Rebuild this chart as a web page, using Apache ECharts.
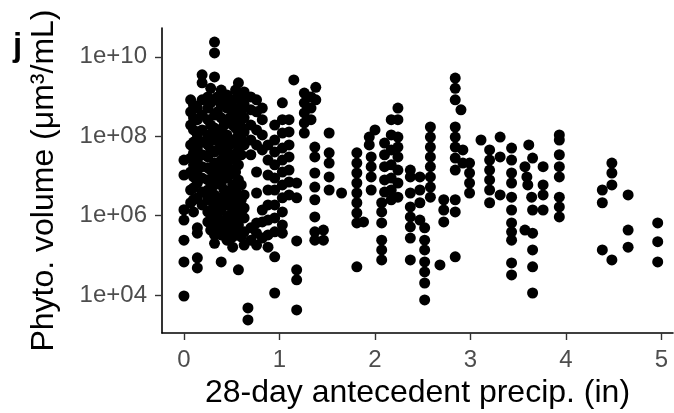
<!DOCTYPE html>
<html>
<head>
<meta charset="utf-8">
<script src="https://cdn.jsdelivr.net/npm/echarts@6/dist/echarts.min.js"></script>
<style>html,body{margin:0;padding:0;background:#fff}#c{width:674px;height:413px}</style>
</head>
<body>
<div id="c"></div>
<script>
// 28-day antecedent precipitation (in), one entry per vertical column of points
const precip = [
  0.00, 0.07, 0.10, 0.14, 0.19, 0.25, 0.28, 0.32, 0.35, 0.39,
  0.42, 0.45, 0.48, 0.51, 0.54, 0.57, 0.60, 0.63, 0.67, 0.70,
  0.76, 0.82, 0.88, 0.95, 1.03, 1.10, 1.15, 1.18, 1.26, 1.33,
  1.38, 1.37, 1.46, 1.52, 1.65, 1.81, 1.88, 1.94, 1.96, 2.00,
  2.07, 2.10, 2.17, 2.24, 2.37, 2.47, 2.52, 2.58, 2.68, 2.72,
  2.84, 2.90, 2.92, 2.99, 3.11, 3.20, 3.31, 3.43, 3.57, 3.59,
  3.60, 3.61, 3.64, 3.65, 3.76, 3.93, 4.38, 4.48, 4.65, 4.96
];
// Phytoplankton volume (um^3/mL), points in each column above
const volume = [
  [2.5e7, 1.05e7, 1.4e6, 7.7e5, 2.4e5, 6.8e4, 9.4e3],
  [8.2e8, 4.1e8, 1.9e8, 6.0e7, 2.8e7, 1.25e7, 4.4e6, 2.1e6],
  [6.1e8, 2.9e8, 1.43e8, 7.1e7, 3.8e7, 1.9e7, 9.4e6, 5.0e6, 2.5e6, 1.23e6],
  [5.1e8, 2.6e8, 1.07e8, 5.0e7, 2.5e7, 1.4e7, 6.6e6, 2.8e6, 4.9e5, 3.6e5, 8.6e4, 4.8e4],
  [3.5e9, 2.2e9, 8.2e8, 3.4e8, 1.43e8, 7.1e7, 3.4e7, 1.7e7, 8.8e6, 3.9e6, 1.85e6],
  [9.7e8, 5.1e8, 2.6e8, 1.07e8, 6.0e7, 3.0e7, 1.6e7, 7.9e6, 4.4e6, 2.5e6, 1.23e6, 6.9e5],
  [1.6e9, 6.9e8, 1.9e8, 4.5e7, 1.4e7, 4.4e6, 1.38e6, 4.3e5],
  [2.35e10, 1.25e10, 3.1e9, 8.2e8, 3.4e8, 1.6e8, 8.0e7, 4.0e7, 2.1e7, 1.05e7, 5.9e6, 3.3e6, 1.85e6, 1.03e6, 5.8e5, 3.25e5, 2.0e5],
  [9.7e8, 4.1e8, 1.07e8, 4.5e7, 1.9e7, 7.9e6, 2.5e6, 1.03e6, 4.9e5],
  [1.45e9, 6.1e8, 2.9e8, 1.43e8, 6.0e7, 2.5e7, 1.25e7, 5.9e6, 2.8e6, 1.38e6, 6.9e5, 3.25e5, 6.8e4],
  [8.2e8, 1.9e8, 8.0e7, 3.4e7, 1.4e7, 4.4e6, 1.85e6, 5.8e5],
  [1.09e9, 5.1e8, 2.3e8, 1.07e8, 4.5e7, 1.9e7, 8.8e6, 3.9e6, 1.85e6, 8.7e5, 4.3e5, 2.4e5],
  [6.1e8, 2.9e8, 6.0e7, 2.5e7, 1.05e7, 2.9e6, 1.03e6],
  [8.2e8, 4.1e8, 1.9e8, 8.0e7, 3.4e7, 1.4e7, 5.9e6, 2.5e6, 1.23e6, 5.8e5, 2.9e5, 1.6e5],
  [1.45e9, 3.4e8, 1.6e8, 7.1e7, 2.5e7, 1.25e7, 4.4e6, 1.85e6, 8.7e5, 3.9e5],
  [2.2e9, 1.09e9, 5.1e8, 2.6e8, 1.07e8, 4.5e7, 1.9e7, 7.9e6, 3.3e6, 1.38e6, 5.8e5, 4.3e4],
  [8.2e8, 4.1e8, 1.7e8, 8.0e7, 3.4e7, 5.9e6, 2.5e6, 1.23e6, 2.9e5],
  [1.3e9, 6.5e8, 2.9e8, 1.28e8, 6.0e7, 3.3e6, 1.55e6, 8.7e5, 3.9e5, 1.8e5],
  [4.7e3, 2.35e3],
  [9.7e8, 4.6e8, 1.9e8, 8.0e7, 3.4e7, 4.9e5, 2.4e5],
  [8.2e8, 4.1e8, 1.43e8, 6.0e7, 1.25e7, 3.7e6, 6.5e5, 3.6e5, 1.8e5],
  [5.1e8, 2.6e8, 1.07e8, 4.5e7, 1.38e6, 6.9e5, 2.7e5],
  [6.0e7, 2.5e7, 1.05e7, 4.4e6, 1.85e6, 7.7e5, 3.25e5, 1.6e5],
  [1.9e8, 8.0e7, 4.0e7, 1.9e7, 8.8e6, 4.4e6, 1.85e6, 8.7e5, 3.9e5, 9.1e4, 1.12e4],
  [6.9e8, 2.6e8, 1.2e8, 5.0e7, 2.5e7, 1.25e7, 5.9e6, 2.8e6, 1.23e6, 5.8e5, 3.6e5],
  [2.6e8, 1.28e8, 6.0e7, 3.0e7, 1.4e7, 7.0e6, 3.3e6],
  [2.6e9],
  [6.6e6, 2.8e6, 2.3e5, 4.3e4, 2.4e4, 4.2e3],
  [1.22e9, 6.9e8, 3.85e8, 2.15e8, 1.2e8],
  [9.7e8, 5.1e8, 2.6e8],
  [1.7e9, 8.2e8],
  [5.3e7, 3.0e7, 1.18e7, 5.2e6, 2.5e6, 9.2e5, 3.9e5, 2.4e5],
  [4.3e5, 2.4e5],
  [1.2e8, 3.8e7, 2.1e7, 9.4e6, 4.4e6],
  [3.7e6],
  [3.8e7, 2.1e7, 1.18e7, 6.6e6, 3.7e6, 2.1e6, 1.16e6, 6.5e5, 5.1e4],
  [6.9e5],
  [9.5e7, 6.0e7],
  [3.0e7, 1.7e7, 9.4e6, 4.4e6],
  [1.43e8],
  [2.1e6, 1.23e6, 6.5e5, 2.4e5, 1.36e5, 7.6e4],
  [6.7e7, 3.4e7, 1.7e7, 7.9e6, 3.9e6],
  [2.6e8, 1.07e8, 4.5e7, 1.9e7, 8.8e6, 4.4e6, 2.5e6],
  [5.1e8, 2.6e8, 9.5e7, 5.3e7, 3.0e7, 1.4e7, 6.6e6, 2.9e6],
  [1.4e7, 9.4e6, 3.7e6, 1.65e6, 9.2e5, 5.2e5, 2.7e5, 7.6e4],
  [9.4e6, 4.4e6, 2.1e6, 7.7e5],
  [4.9e5, 2.4e5, 1.36e5, 6.8e4, 3.8e4, 2.0e4, 7.5e3],
  [1.7e8, 9.5e7, 5.3e7, 3.0e7, 1.7e7, 9.4e6, 5.2e6, 2.9e6],
  [5.7e4],
  [2.5e6, 1.38e6, 6.9e5],
  [2.9e9, 1.6e9, 8.2e8, 1.7e8, 9.5e7, 5.3e7, 2.8e7, 1.4e7, 2.5e6, 1.23e6, 9.1e4],
  [4.6e8],
  [4.5e7, 2.1e7],
  [2.1e7, 1.18e7, 6.6e6, 3.7e6],
  [8.0e7],
  [4.5e7, 2.5e7, 1.4e7, 7.9e6, 4.4e6, 2.1e6],
  [9.5e7, 3.0e7, 3.3e6],
  [5.0e7, 2.5e7, 1.18e7, 6.6e6, 2.9e6, 1.38e6, 6.5e5, 3.9e5, 2.4e5, 6.4e4, 3.2e4],
  [1.7e7, 4.3e5],
  [9.4e6],
  [5.9e6],
  [6.0e7],
  [2.9e6],
  [2.8e7, 1.38e6, 3.6e5, 1.36e5, 5.1e4, 1.12e4],
  [1.7e7, 5.9e6, 3.3e6, 1.38e6],
  [1.07e8, 8.0e7, 3.4e7, 1.7e7, 9.4e6, 2.9e6, 1.65e6, 9.2e5],
  [4.4e6, 2.1e6, 1.36e5],
  [2.1e7, 1.18e7, 5.9e6, 7.6e4],
  [3.3e6, 4.3e5, 1.6e5],
  [6.5e5, 2.2e5, 6.8e4]
];
const xTicks = [0, 1, 2, 3, 4, 5];
const yTickValues = [1e4, 1e6, 1e8, 1e10];
const yTickLabels = ['1e+04', '1e+06', '1e+08', '1e+10'];
const xTitle = '28-day antecedent precip. (in)';
const yTitle = 'Phyto. volume (\u03bcm\u00b3/mL)';
const panelLetter = 'j';

const points = [];
precip.forEach((x, i) => volume[i].forEach(v => points.push([x, v])));

const FONT = '"Liberation Sans", Arial, sans-serif';
const chart = echarts.init(document.getElementById('c'), null, {renderer: 'canvas'});
chart.setOption({
  animation: false,
  backgroundColor: '#ffffff',
  title: {
    text: panelLetter, left: 8, top: 25,
    textStyle: {fontFamily: FONT, fontSize: 33, fontWeight: 'bold', color: '#000'}
  },
  grid: {left: 162, right: 1, top: 28, bottom: 80, containLabel: false, outerBoundsMode: 'none'},
  xAxis: {
    type: 'value', min: -0.23, max: 5.12,
    splitLine: {show: false},
    axisLine: {show: true, onZero: false, lineStyle: {color: '#000', width: 1.6}},
    axisTick: {show: true, length: 7, customValues: xTicks, lineStyle: {color: '#333', width: 1.4}},
    axisLabel: {customValues: xTicks, margin: 15, color: '#4d4d4d', fontSize: 24, fontFamily: FONT},
    name: xTitle, nameLocation: 'middle', nameGap: 19,
    nameTextStyle: {color: '#000', fontSize: 32, fontFamily: FONT}
  },
  yAxis: {
    type: 'log', logBase: 10, min: 1.1e3, max: 5.3e10,
    splitLine: {show: false},
    axisLine: {show: true, onZero: false, lineStyle: {color: '#000', width: 1.6}},
    axisTick: {show: true, length: 7, customValues: yTickValues, lineStyle: {color: '#333', width: 1.4}},
    axisLabel: {
      customValues: yTickValues, margin: 15, color: '#4d4d4d', fontSize: 24, fontFamily: FONT,
      formatter: function (v) {
        const lv = Math.log10(v);
        for (let i = 0; i < yTickValues.length; i++) {
          if (Math.abs(Math.log10(yTickValues[i]) - lv) < 0.01) return yTickLabels[i];
        }
        return '';
      }
    },
    name: yTitle, nameLocation: 'middle', nameGap: 102, nameRotate: 90,
    nameTextStyle: {color: '#000', fontSize: 32, fontFamily: FONT}
  },
  series: [{
    type: 'scatter',
    data: points,
    symbol: 'circle',
    symbolSize: 11,
    itemStyle: {color: '#000', opacity: 1},
    silent: true
  }]
});
</script>
</body>
</html>
